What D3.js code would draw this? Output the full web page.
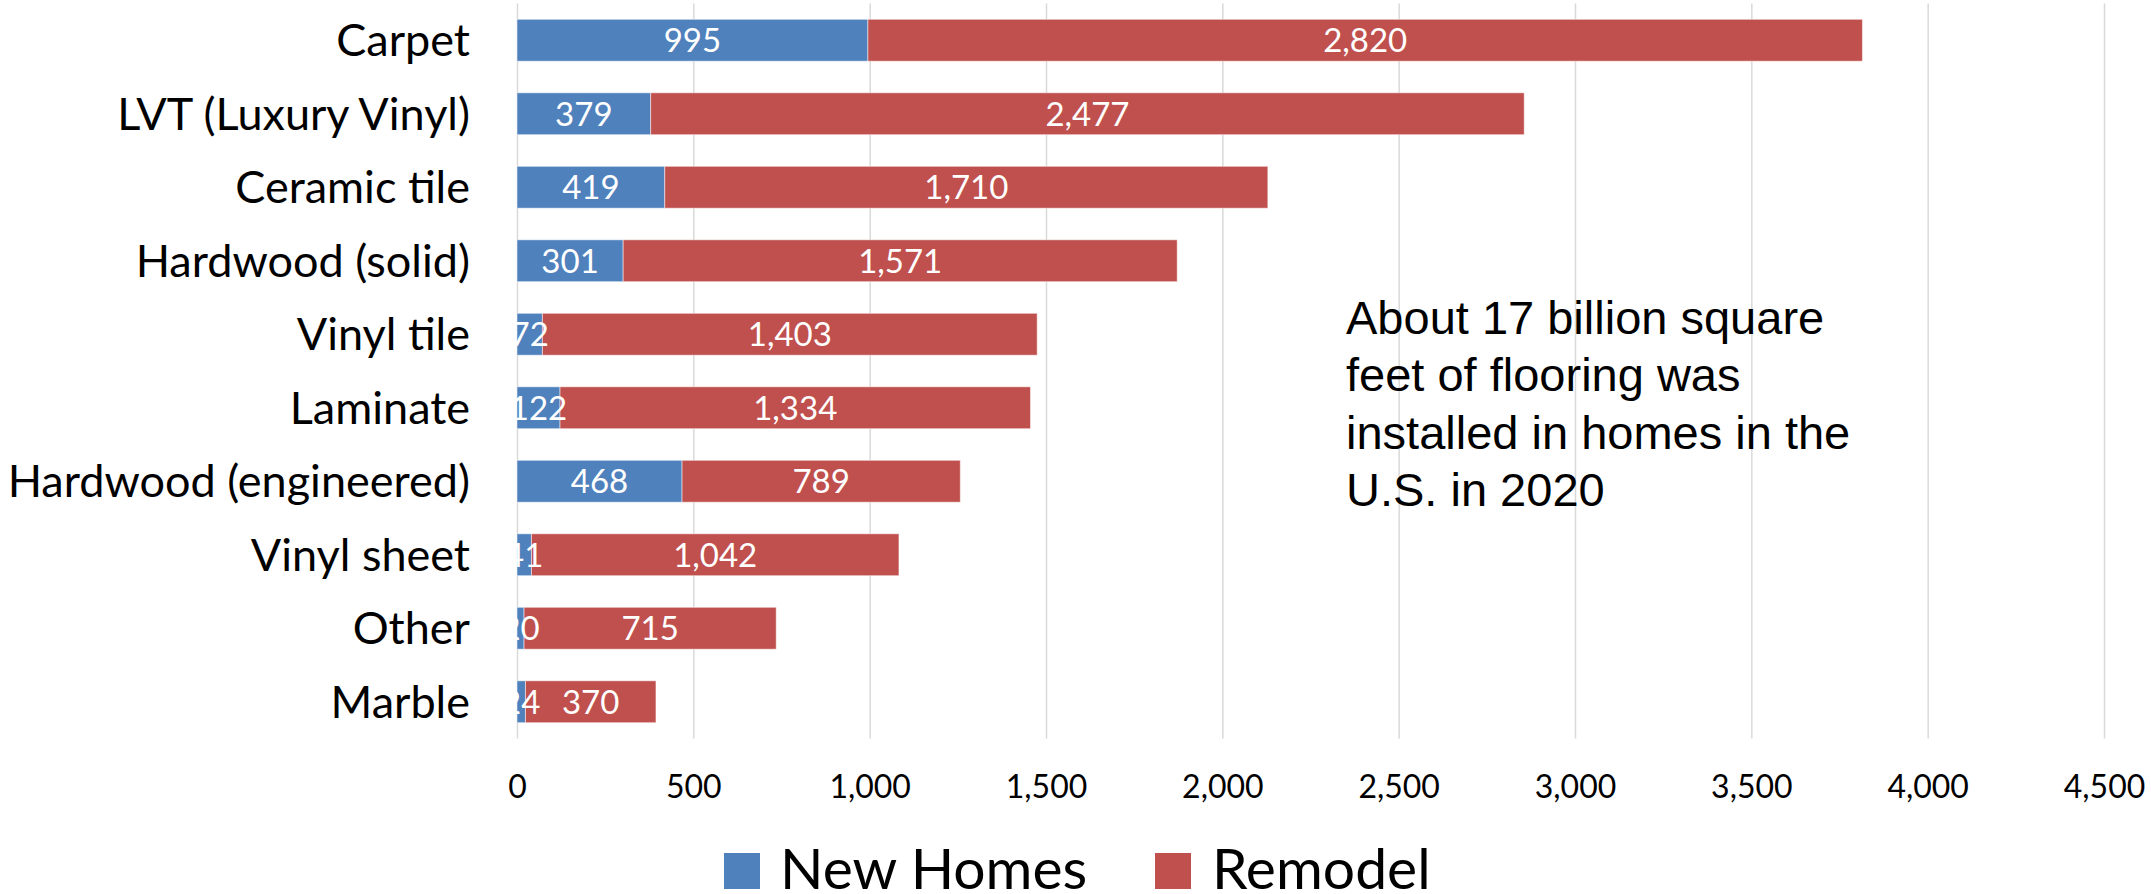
<!DOCTYPE html>
<html>
<head>
<meta charset="utf-8">
<script src="https://cdn.jsdelivr.net/npm/d3@7"></script>
<style>
html, body {
  margin: 0;
  padding: 0;
  background: #fff;
}
svg {
  display: block;
}
.cat-axis text {
  font-family: Lato, 'Noto Sans', sans-serif;
  font-size: 45px;
  fill: #000;
}
.val-axis text {
  font-family: Lato, 'Noto Sans', sans-serif;
  font-size: 32px;
  fill: #000;
}
.note {
  font-family: 'Liberation Sans', Arial, sans-serif;
  font-size: 47px;
  fill: #000;
}
</style>
</head>
<body>
<svg id="chart"></svg>
<script>
// flooring installed in 2020, million sq ft
const categories = ['Carpet', 'LVT (Luxury Vinyl)', 'Ceramic tile', 'Hardwood (solid)', 'Vinyl tile',
  'Laminate', 'Hardwood (engineered)', 'Vinyl sheet', 'Other', 'Marble'];
const newHomes = [995, 379, 419, 301, 72, 122, 468, 41, 20, 24];
const remodel = [2820, 2477, 1710, 1571, 1403, 1334, 789, 1042, 715, 370];
const seriesNames = ['New Homes', 'Remodel'];
const seriesColors = ['#4F81BD', '#C0504D'];
const xTicks = [0, 500, 1000, 1500, 2000, 2500, 3000, 3500, 4000, 4500];
const noteLines = ['About 17 billion square', 'feet of flooring was', 'installed in homes in the', 'U.S. in 2020'];

const W = 2151, H = 894;
const plot = { left: 517, right: 2104, top: 3.5, bottom: 738.5 };

const svg = d3.select('#chart').attr('width', W).attr('height', H);

const rows = categories.map((c, i) => ({ cat: c, 'New Homes': newHomes[i], 'Remodel': remodel[i] }));
const stacked = d3.stack().keys(seriesNames)(rows);

const x = d3.scaleLinear().domain([0, 4500]).range([plot.left, plot.right]);
const y = d3.scaleBand().domain(categories).range([plot.top, plot.bottom])
  .paddingInner(0.43).paddingOuter(0.215);

// gridlines
const grid = svg.append('g')
  .attr('transform', `translate(0,${plot.bottom})`)
  .call(d3.axisBottom(x).tickValues(xTicks).tickSize(-(plot.bottom - plot.top)).tickFormat(''));
grid.select('.domain').remove();
grid.selectAll('line').attr('stroke', '#d9d9d9').attr('stroke-width', 1.5);

// value axis labels
const xAxis = svg.append('g')
  .attr('class', 'val-axis')
  .attr('transform', `translate(0,${plot.bottom})`)
  .call(d3.axisBottom(x).tickValues(xTicks).tickFormat(d3.format(',')).tickSize(0).tickPadding(37));
xAxis.select('.domain').remove();
xAxis.attr('font-family', null).attr('font-size', null);

// category labels
const yAxis = svg.append('g')
  .attr('class', 'cat-axis')
  .attr('transform', `translate(${plot.left},0)`)
  .call(d3.axisLeft(y).tickSize(0).tickPadding(47));
yAxis.select('.domain').remove();
yAxis.attr('font-family', null).attr('font-size', null);
yAxis.selectAll('text').attr('dy', '0.36em');

// bars
const layers = svg.append('g').selectAll('g')
  .data(stacked)
  .join('g')
  .attr('fill', (d, i) => seriesColors[i]);

layers.selectAll('rect')
  .data(d => d)
  .join('rect')
  .attr('x', d => x(d[0]))
  .attr('y', d => y(d.data.cat))
  .attr('width', d => x(d[1]) - x(d[0]))
  .attr('height', y.bandwidth())
  .attr('stroke', '#fff')
  .attr('stroke-opacity', 0.5)
  .attr('stroke-width', 1);

// data labels, clipped at the plot's left edge
svg.append('clipPath').attr('id', 'plot-clip')
  .append('rect').attr('x', plot.left - 2).attr('y', 0).attr('width', W).attr('height', H);

const labels = svg.append('g').attr('clip-path', 'url(#plot-clip)');
stacked.forEach(s => {
  labels.append('g').selectAll('text')
    .data(s)
    .join('text')
    .attr('x', d => x((d[0] + d[1]) / 2))
    .attr('y', d => y(d.data.cat) + y.bandwidth() / 2)
    .attr('dy', '0.36em')
    .attr('text-anchor', 'middle')
    .attr('font-family', 'Lato, sans-serif')
    .attr('font-size', 33)
    .attr('fill', '#fff')
    .text(d => d3.format(',')(d[1] - d[0]));
});

// annotation
svg.append('text')
  .attr('class', 'note')
  .selectAll('tspan')
  .data(noteLines)
  .join('tspan')
  .attr('x', 1346)
  .attr('y', (d, i) => 334 + i * 57.3)
  .text(d => d);

// legend
const legendPos = [{ box: 724, text: 780 }, { box: 1155, text: 1212 }];
const legend = svg.append('g');
seriesNames.forEach((name, i) => {
  legend.append('rect')
    .attr('x', legendPos[i].box).attr('y', 853)
    .attr('width', 36).attr('height', 36)
    .attr('fill', seriesColors[i]);
  legend.append('text')
    .attr('x', legendPos[i].text).attr('y', 889)
    .attr('font-family', 'Lato, sans-serif')
    .attr('font-size', 57)
    .attr('fill', '#000')
    .text(name);
});
</script>
</body>
</html>
